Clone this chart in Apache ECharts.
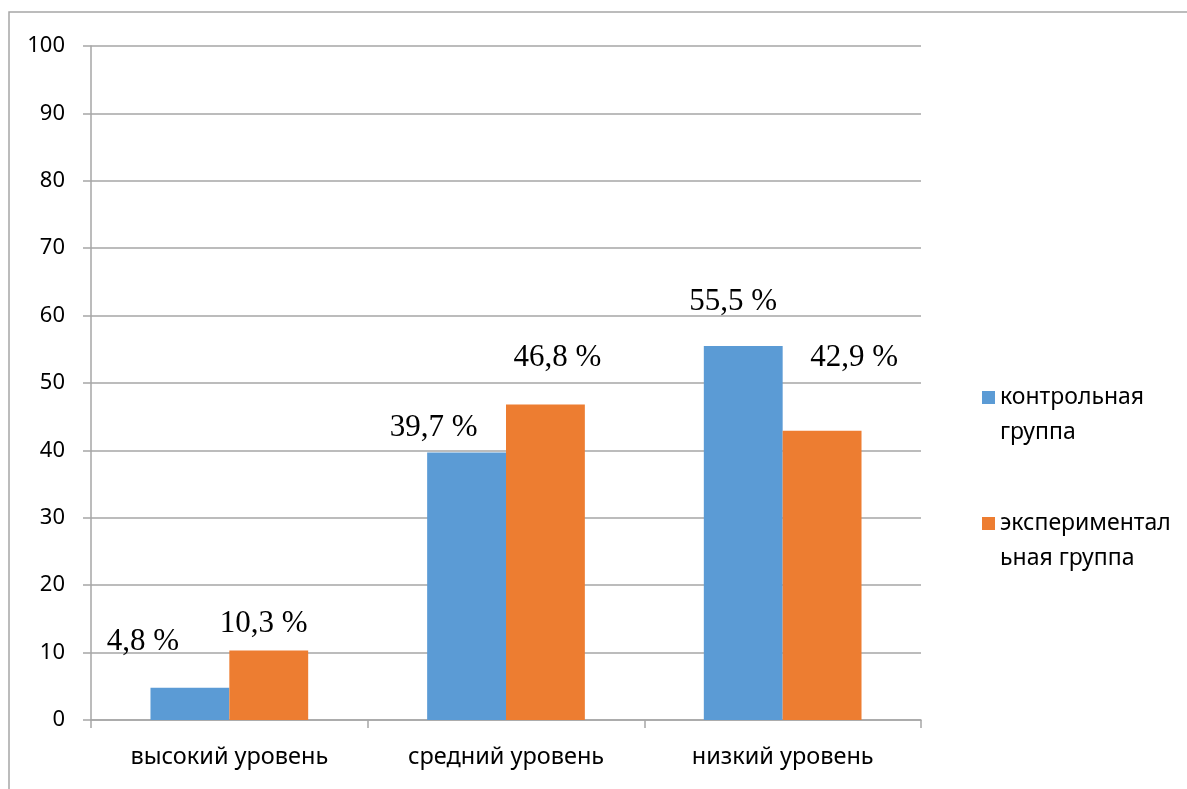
<!DOCTYPE html>
<html><head><meta charset="utf-8">
<script src="https://cdn.jsdelivr.net/npm/echarts@6/dist/echarts.min.js"></script>
<style>html,body{margin:0;padding:0;background:#fff}#c{width:1187px;height:789px}</style>
</head><body><div id="c"></div>
<script>
const categories = ['высокий уровень', 'средний уровень', 'низкий уровень'];
const seriesNames = ['контрольная группа', 'экспериментальная группа'];
const legendLabels = ['контрольная\nгруппа', 'экспериментал\nьная группа'];
const controlValues = [4.8, 39.7, 55.5];
const experimentValues = [10.3, 46.8, 42.9];
const yTicks = {min: 0, max: 100, interval: 10};

// label offsets (style only)
const controlOffsets = [[-47, -25], [-33, -4], [-10, -24]];
const experimentOffsets = [[-5, -6], [12, -26], [32, -52]];

const gray = '#a6a6a6';
const labelStyle = {show: true, position: 'top', fontFamily: 'Liberation Serif', fontSize: 31, color: '#000',
  formatter: p => String(p.value).replace('.', ',') + ' %'};

function mk(values, offsets) {
  return values.map((v, i) => ({value: v, label: {offset: offsets[i]}}));
}

const chart = echarts.init(document.getElementById('c'), null, {renderer: 'canvas'});
chart.setOption({
  animation: false,
  backgroundColor: '#fff',
  grid: {left: 91, right: 266, top: 46, bottom: 69, containLabel: false},
  legend: {
    orient: 'vertical', left: 982, top: 345, padding: 0,
    itemWidth: 13, itemHeight: 13, itemGap: 21, icon: 'rect',
    data: seriesNames,
    formatter: n => '\n' + legendLabels[seriesNames.indexOf(n)],
    textStyle: {fontFamily: 'Noto Sans', fontSize: 23, color: '#000', lineHeight: 35}
  },
  xAxis: {
    type: 'category', data: categories,
    axisLine: {lineStyle: {color: gray, width: 1.5}},
    axisTick: {show: true, length: 8, lineStyle: {color: gray, width: 1.5}},
    axisLabel: {fontFamily: 'Noto Sans', fontSize: 23.5, color: '#000', margin: 25}
  },
  yAxis: {
    type: 'value', min: yTicks.min, max: yTicks.max, interval: yTicks.interval,
    axisLine: {show: true, lineStyle: {color: gray, width: 1.5}},
    axisTick: {show: true, length: 8, lineStyle: {color: gray, width: 1.5}},
    splitLine: {lineStyle: {color: gray, width: 1.5}},
    axisLabel: {fontFamily: 'Noto Sans', fontSize: 22, color: '#000', margin: 26}
  },
  series: [
    {name: seriesNames[0], type: 'bar', data: mk(controlValues, controlOffsets), itemStyle: {color: '#5B9BD5'},
     barGap: '0%', barCategoryGap: '43%', label: labelStyle},
    {name: seriesNames[1], type: 'bar', data: mk(experimentValues, experimentOffsets), itemStyle: {color: '#ED7D31'},
     barGap: '0%', barCategoryGap: '43%', label: labelStyle}
  ],
  graphic: [{type: 'rect', shape: {x: 9, y: 12, width: 1300, height: 900}, silent: true,
    style: {fill: null, stroke: gray, lineWidth: 1.5}, z: -1}]
});
</script></body></html>
